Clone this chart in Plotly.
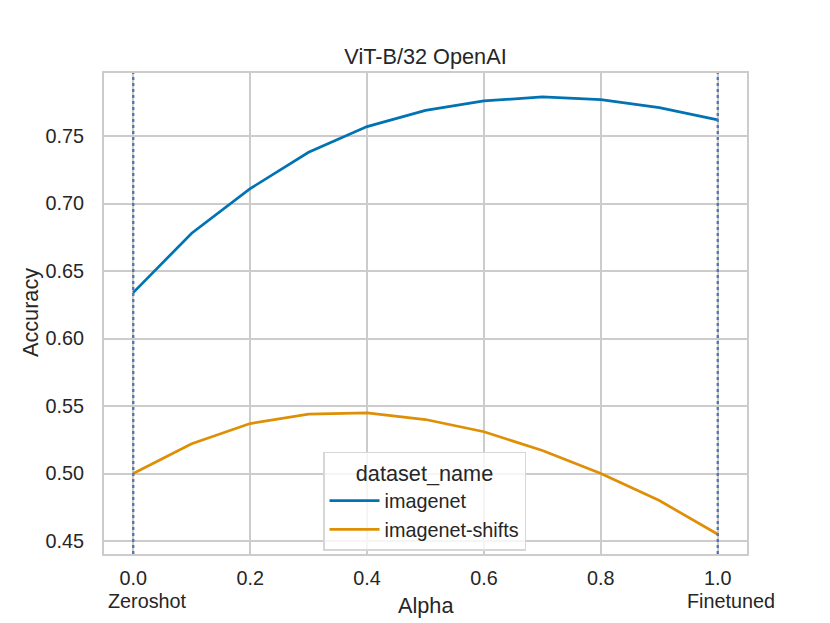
import plotly.graph_objects as go

alpha = [0.0, 0.1, 0.2, 0.3, 0.4, 0.5, 0.6, 0.7, 0.8, 0.9, 1.0]
acc_imagenet = [0.634, 0.678, 0.711, 0.738, 0.757, 0.769, 0.776, 0.779, 0.777, 0.771, 0.762]
acc_shifts = [0.500, 0.522, 0.537, 0.544, 0.545, 0.540, 0.531, 0.517, 0.500, 0.480, 0.455]
series_names = ["imagenet", "imagenet-shifts"]
series_colors = ["#0173b2", "#de8f05"]
x_ticks = [0.0, 0.2, 0.4, 0.6, 0.8, 1.0]
y_ticks = [0.45, 0.50, 0.55, 0.60, 0.65, 0.70, 0.75]
end_labels = {0.0: "Zeroshot", 1.0: "Finetuned"}

font_family = "Liberation Sans, Arial, sans-serif"
text_color = "#262626"

fig = go.Figure()
for name, ys, color in zip(series_names, [acc_imagenet, acc_shifts], series_colors):
    fig.add_trace(go.Scatter(x=alpha, y=ys, mode="lines", name=name,
                             line=dict(color=color, width=2.7)))

for xv in end_labels:
    fig.add_vline(x=xv, line_dash="dot", line_color="#5577b8", line_width=2.4)

# Zeroshot / Finetuned captions under the end ticks
for xv, label in end_labels.items():
    fig.add_annotation(x=xv, y=-0.097, xref="x", yref="paper", text=label,
                       showarrow=False, xshift=14 if xv == 0 else 13,
                       yanchor="middle",
                       font=dict(size=19.8, color=text_color, family=font_family))

# axis titles
fig.add_annotation(x=0.5, y=-0.108, xref="paper", yref="paper", text="Alpha",
                   showarrow=False, yanchor="middle",
                   font=dict(size=21.7, color=text_color, family=font_family))
fig.add_annotation(x=-0.115, y=0.501, xref="paper", yref="paper", text="Accuracy",
                   showarrow=False, textangle=-90, xanchor="center", yanchor="middle",
                   font=dict(size=21.7, color=text_color, family=font_family))

fig.update_layout(
    width=830, height=623,
    margin=dict(l=104, r=83, t=73, b=69, autoexpand=False),
    paper_bgcolor="white", plot_bgcolor="white",
    font=dict(family=font_family, size=19.8, color=text_color),
    title=dict(text="ViT-B/32 OpenAI", x=0.5, xref="paper", xanchor="center",
               y=1 - 56 / 623, yref="container", yanchor="middle",
               font=dict(size=21.7, color=text_color)),
    legend=dict(
        title=dict(text="dataset_name", side="top center", font=dict(size=21.7)),
        x=0.3406, y=0.213, xanchor="left", yanchor="top",
        bgcolor="rgba(255,255,255,0.8)", bordercolor="#d6d6d6", borderwidth=1.5,
        font=dict(size=19.8), itemwidth=50,
    ),
)

fig.update_xaxes(range=[-0.05, 1.05], tickvals=x_ticks, tickformat=".1f",
                 showgrid=True, gridcolor="#cccccc", gridwidth=1.6,
                 showline=True, linecolor="#cccccc", linewidth=2.2, mirror=True,
                 zeroline=False, ticks="", ticklabelstandoff=5, automargin=False)
fig.update_yaxes(range=[0.4404, 0.7967], tickvals=y_ticks, tickformat=".2f",
                 showgrid=True, gridcolor="#cccccc", gridwidth=1.6,
                 showline=True, linecolor="#cccccc", linewidth=2.2, mirror=True,
                 zeroline=False, ticks="", ticklabelstandoff=14, automargin=False)

# the page's default body margin would push the figure 8px off the window
fig.write_html("out.html", config={"displayModeBar": False},
               post_script="document.body.style.margin = '0';")
